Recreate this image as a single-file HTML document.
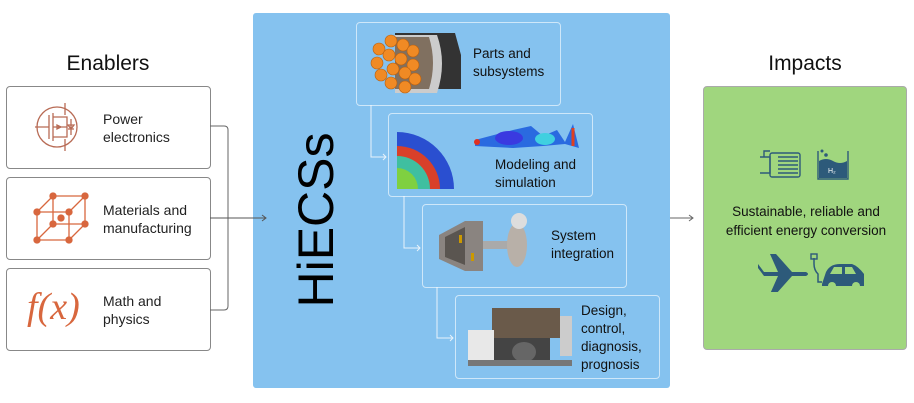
<!DOCTYPE html>
<html><head><style>
body{margin:0;width:914px;height:403px;background:#fff;position:relative;font-family:"Liberation Sans",sans-serif;overflow:hidden}
.a{position:absolute}
.lb{border:1px solid #888;border-radius:4px;background:#fff;width:203px;height:81px;left:6px}
.lt{position:absolute;left:96px;font-size:14px;line-height:18px;color:#222}
.sb{position:absolute;border:1px solid rgba(255,255,255,.6);border-radius:4px;width:203px;height:82px}
.st{position:absolute;font-size:13.5px;line-height:18px;color:#111}
</style></head><body>
<div class="a" style="left:0;top:52px;width:216px;text-align:center;font-size:21px;color:#111">Enablers</div>
<div class="a" style="left:703px;top:52px;width:204px;text-align:center;font-size:21px;color:#111">Impacts</div>

<div class="a lb" style="top:86px">
<svg class="a" style="left:18px;top:10px" width="60" height="60" viewBox="0 0 60 60" fill="none" stroke="#b86b55" stroke-width="1.3"><circle cx="32" cy="30" r="20"/><path d="M10 30H24M24 18V42M28 16V44M28 20H42V24M28 30H42M28 40H42V36M42 24V36M36 30l-4-2v4z"/><path d="M40 6V18M40 42V54M46 22V38M43 32h6M46 32l-3-4h6z"/></svg>
<div class="lt" style="top:23px">Power<br>electronics</div></div>
<div class="a lb" style="top:177px">
<svg class="a" style="left:22px;top:14px" width="60" height="56" viewBox="0 0 60 56" fill="#d8673e" stroke="#d8673e" stroke-width="1.3"><path fill="none" d="M8 20H40V48H8ZM24 4H56V32H24ZM8 20L24 4M40 20L56 4M40 48L56 32M8 48L24 32M24 4V32H56"/><circle cx="8" cy="20" r="3"/><circle cx="40" cy="20" r="3"/><circle cx="8" cy="48" r="3"/><circle cx="40" cy="48" r="3"/><circle cx="24" cy="4" r="3"/><circle cx="56" cy="4" r="3"/><circle cx="24" cy="32" r="3"/><circle cx="56" cy="32" r="3"/><circle cx="32" cy="26" r="3"/></svg>
<div class="lt" style="top:23px">Materials and<br>manufacturing</div></div>
<div class="a lb" style="top:268px">
<div class="a" style="left:20px;top:16px;font-family:'Liberation Serif',serif;font-style:italic;font-size:38px;color:#d8673e">f(x)</div>
<div class="lt" style="top:23px">Math and<br>physics</div></div>

<div class="a" style="left:253px;top:13px;width:417px;height:375px;background:#85c2ef;border-radius:3px"></div>
<svg class="a" style="left:0;top:0" width="914" height="403">
<path d="M210 126H224Q228 126 228 130V306Q228 310 224 310H210" fill="none" stroke="#666" stroke-width="1"/>
<path d="M210 218H266M262 215l4 3-4 3" fill="none" stroke="#555" stroke-width="1"/>
<path d="M670 218H693M689 215l4 3-4 3" fill="none" stroke="#666" stroke-width="1"/>
</svg>
<div class="a" style="left:316px;top:220px;transform:translate(-50%,-50%) rotate(-90deg);font-size:50px;color:#000;white-space:nowrap;line-height:50px">HiECSs</div>

<svg class="a" style="left:0;top:0" width="914" height="403">
<g fill="none" stroke="#e8f3fb" stroke-width="1"><path d="M371 105V157H386M383 154l3 3-3 3"/><path d="M404 196V248H420M417 245l3 3-3 3"/><path d="M437 287V338H453M450 335l3 3-3 3"/></g>
</svg>
<div class="sb" style="left:356px;top:22px">
<svg class="a" style="left:8px;top:4px" width="100" height="72"><path d="M30 6H90L96 28V62H30Z" fill="#333"/><path d="M30 8H72Q82 36 72 66H30Z" fill="#ccc"/><path d="M30 10H64Q72 36 64 62H30Z" fill="#807060"/>
<g fill="#f08a24" stroke="#b86010" stroke-width=".6"><circle cx="14" cy="22" r="6"/><circle cx="26" cy="14" r="6"/><circle cx="38" cy="18" r="6"/><circle cx="48" cy="24" r="6"/><circle cx="12" cy="36" r="6"/><circle cx="24" cy="28" r="6"/><circle cx="36" cy="32" r="6"/><circle cx="48" cy="38" r="6"/><circle cx="16" cy="48" r="6"/><circle cx="28" cy="42" r="6"/><circle cx="40" cy="46" r="6"/><circle cx="26" cy="56" r="6"/><circle cx="40" cy="60" r="6"/><circle cx="50" cy="52" r="6"/></g></svg>
<div class="st" style="left:116px;top:22px">Parts and<br>subsystems</div></div>
<div class="sb" style="left:388px;top:113px">
<svg class="a" style="left:8px;top:18px" width="58" height="58"><path d="M0 0A57 57 0 0 1 57 57H0Z" fill="#2a4fd0"/><path d="M0 14A43 43 0 0 1 43 57H0Z" fill="#d8402a"/><path d="M0 24A33 33 0 0 1 33 57H0Z" fill="#3fbfa0"/><path d="M0 36A21 21 0 0 1 21 57H0Z" fill="#7fd040"/></svg>
<svg class="a" style="left:84px;top:8px" width="110" height="30"><path d="M2 18L40 8L58 4L70 14L84 8L92 20L100 2L106 26L92 22L70 24L40 26L2 24Z" fill="#2a6ae0"/><ellipse cx="36" cy="16" rx="14" ry="7" fill="#3a3ae0"/><ellipse cx="72" cy="17" rx="10" ry="6" fill="#40d0e0"/><circle cx="4" cy="20" r="3" fill="#e03020"/><path d="M100 6V24" stroke="#e04020" stroke-width="3"/></svg>
<div class="st" style="left:106px;top:42px">Modeling and<br>simulation</div></div>
<div class="sb" style="left:422px;top:204px">
<svg class="a" style="left:12px;top:2px" width="100" height="78"><path d="M4 28L30 14H48V64H30L4 52Z" fill="#8a8480"/><path d="M10 30L30 20V58L10 50Z" fill="#5a5550"/><rect x="48" y="34" width="30" height="8" fill="#aaa"/><ellipse cx="82" cy="38" rx="10" ry="22" fill="#b8b0a8"/><circle cx="84" cy="14" r="8" fill="#ddd"/><rect x="24" y="28" width="3" height="8" fill="#c90"/><rect x="36" y="46" width="3" height="8" fill="#c90"/></svg>
<div class="st" style="left:128px;top:22px">System<br>integration</div></div>
<div class="sb" style="left:455px;top:295px">
<svg class="a" style="left:8px;top:4px" width="118" height="76"><rect x="28" y="8" width="68" height="30" fill="#6a5a4a"/><rect x="96" y="16" width="12" height="40" fill="#ccc"/><rect x="4" y="30" width="26" height="30" fill="#e8e8e8"/><rect x="30" y="38" width="56" height="24" fill="#444"/><ellipse cx="60" cy="52" rx="12" ry="10" fill="#666"/><rect x="4" y="60" width="104" height="6" fill="#777"/></svg>
<div class="st" style="left:125px;top:6px">Design,<br>control,<br>diagnosis,<br>prognosis</div></div>

<div class="a" style="left:703px;top:86px;width:204px;height:264px;background:#a0d67e;border-radius:4px;border:1px solid #aaa;box-sizing:border-box">
<svg class="a" style="left:52px;top:60px" width="100" height="34"><g fill="none" stroke="#2d5a7a" stroke-width="1.4"><rect x="14" y="6" width="30" height="24" rx="2"/><path d="M4 10H14V26H4M8 10V4H14"/></g><g stroke="#2d5a7a" stroke-width="1.6"><path d="M22 10H42M22 14H42M22 18H42M22 22H42M22 26H42"/></g><path d="M62 4V32H92V4" fill="none" stroke="#2d5a7a" stroke-width="1.4"/><path d="M63 14Q70 10 77 14T91 14V31H63Z" fill="#2d5a7a"/><circle cx="66" cy="4" r="1.5" fill="#2d5a7a"/><circle cx="70" cy="8" r="1.8" fill="#2d5a7a"/><text x="72" y="26" font-size="7" fill="#fff" font-family="Liberation Sans">H₂</text></svg>
<div class="a" style="left:0;top:115px;width:204px;text-align:center;font-size:13.5px;line-height:19px;color:#111">Sustainable, reliable and<br>efficient energy conversion</div>
<svg class="a" style="left:52px;top:165px" width="110" height="40"><path d="M2 10L8 18H22L14 36H20L36 18H50Q54 16 50 14H36L20 -4H14L22 14H8L2 6Z" fill="#2d5a7a" transform="translate(0,6)"/><path d="M58 6V12Q58 18 62 22V30H66" fill="none" stroke="#2d5a7a" stroke-width="1.5"/><rect x="55" y="2" width="6" height="5" fill="none" stroke="#2d5a7a" stroke-width="1.4"/><path d="M66 32L70 20Q74 12 84 12H96Q102 14 108 22V34H66Z" fill="#2d5a7a"/><path d="M74 22L78 15H86V22ZM89 15H96L100 22H89Z" fill="#a0d67e"/><circle cx="76" cy="34" r="4" fill="#a0d67e"/><circle cx="100" cy="34" r="4" fill="#a0d67e"/></svg>
</div>
</body></html>
